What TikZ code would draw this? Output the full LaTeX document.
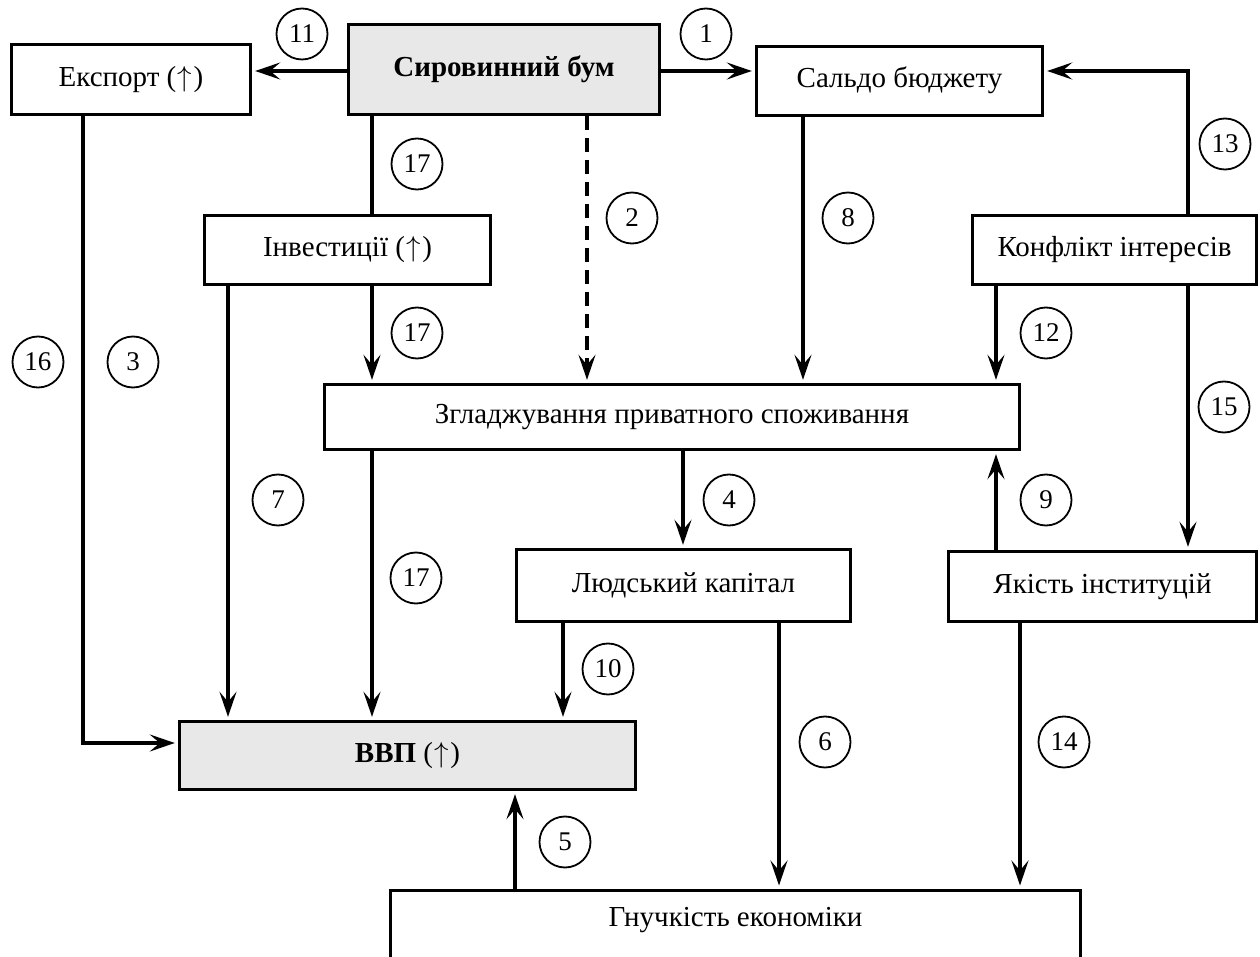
\documentclass[tikz,border=0pt]{standalone}
\usepackage{fontspec}
\setmainfont{Liberation Serif}
\usetikzlibrary{arrows.meta}
\newcommand{\upar}{(\kern0.05em$\uparrow$\kern0.05em)}
\begin{document}
\begin{tikzpicture}[x=0.5pt,y=-0.5pt,
  box/.style={draw, line width=1.7pt, inner sep=0pt, align=center,
    font=\fontsize{14.5}{17}\selectfont, text height=10.2pt, text depth=3.6pt},
  hbox/.style={box, fill=black!9},
  num/.style={draw, circle, line width=0.9pt, minimum size=25.5pt, inner sep=0pt,
    font=\fontsize{13.5}{15}\selectfont},
  conn/.style={line width=1.7pt},
  arr/.style={conn, shorten >=1.5pt, -{Stealth[length=12.5pt,width=8.5pt,inset=5pt]}},
  ]
\useasboundingbox (0,0) rectangle (1260,957);
\clip (0,0) rectangle (1260,957);

% boxes
\node[box, minimum width=119.5pt, minimum height=35pt] (exp) at (131,79.5) {Експорт \upar};
\node[hbox, minimum width=155.5pt, minimum height=45pt] (syr) at (504,69.5) {\textbf{Сировинний бум}};
\node[box, minimum width=143pt, minimum height=34.5pt] (sal) at (899.5,81) {Сальдо бюджету};
\node[box, minimum width=143pt, minimum height=34.5pt] (inv) at (347.5,250) {Інвестиції \upar};
\node[box, minimum width=142pt, minimum height=34.5pt] (kon) at (1114.5,250) {Конфлікт інтересів};
\node[box, minimum width=347.5pt, minimum height=32.5pt] (zgl) at (672,417) {Згладжування приватного споживання};
\node[box, minimum width=167pt, minimum height=36pt] (lyud) at (683.5,585.5) {Людський капітал};
\node[box, minimum width=154pt, minimum height=35pt] (yak) at (1102.5,586.5) {Якість інституцій};
\node[hbox, minimum width=228pt, minimum height=34pt] (vvp) at (407.5,755.5) {\textbf{ВВП} \upar};
\node[box, anchor=north, minimum width=345pt, text height=18.25pt, text depth=40pt] (gnu) at (735.5,888.5) {Гнучкість економіки};

% connectors
\draw[arr] (syr.west |- 0,71) -- (exp.east |- 0,71);
\draw[arr] (syr.east |- 0,71) -- (sal.west |- 0,71);
\draw[conn] (372,0 |- syr.south) -- (372,0 |- inv.north);
\draw[arr] (372,0 |- inv.south) -- (372,0 |- zgl.north);
\draw[arr] (228,0 |- inv.south) -- (228,0 |- vvp.north);
\draw[arr, dash pattern=on 7pt off 4pt] (587,0 |- syr.south) -- (587,0 |- zgl.north);
\draw[arr] (803,0 |- sal.south) -- (803,0 |- zgl.north);
\draw[arr] (1188,0 |- kon.north) |- (sal.east |- 0,71);
\draw[arr] (996,0 |- kon.south) -- (996,0 |- zgl.north);
\draw[arr] (1188,0 |- kon.south) -- (1188,0 |- yak.north);
\draw[arr] (83,0 |- exp.south) |- (vvp.west |- 0,743);
\draw[arr] (372,0 |- zgl.south) -- (372,0 |- vvp.north);
\draw[arr] (683,0 |- zgl.south) -- (683,0 |- lyud.north);
\draw[arr] (996,0 |- yak.north) -- (996,0 |- zgl.south);
\draw[arr] (563,0 |- lyud.south) -- (563,0 |- vvp.north);
\draw[arr] (779,0 |- lyud.south) -- (779,0 |- gnu.north);
\draw[arr] (1020,0 |- yak.south) -- (1020,0 |- gnu.north);
\draw[arr] (515,0 |- gnu.north) -- (515,0 |- vvp.south);

% number circles
\node[num] (n11) at (302,34) {11};
\node[num] (n1) at (706,34) {1};
\node[num] (n17a) at (417,164) {17};
\node[num] (n2) at (632,218) {2};
\node[num] (n8) at (848,218) {8};
\node[num] (n13) at (1225,144) {13};
\node[num] (n17b) at (417,333) {17};
\node[num] (n12) at (1046,333) {12};
\node[num] (n16) at (38,362) {16};
\node[num] (n3) at (133,362) {3};
\node[num] (n15) at (1224,407) {15};
\node[num] (n7) at (278,500) {7};
\node[num] (n4) at (729,500) {4};
\node[num] (n9) at (1046,500) {9};
\node[num] (n17c) at (416,578) {17};
\node[num] (n10) at (608,669) {10};
\node[num] (n6) at (825,742) {6};
\node[num] (n14) at (1064,742) {14};
\node[num] (n5) at (565,842) {5};
\end{tikzpicture}
\end{document}
